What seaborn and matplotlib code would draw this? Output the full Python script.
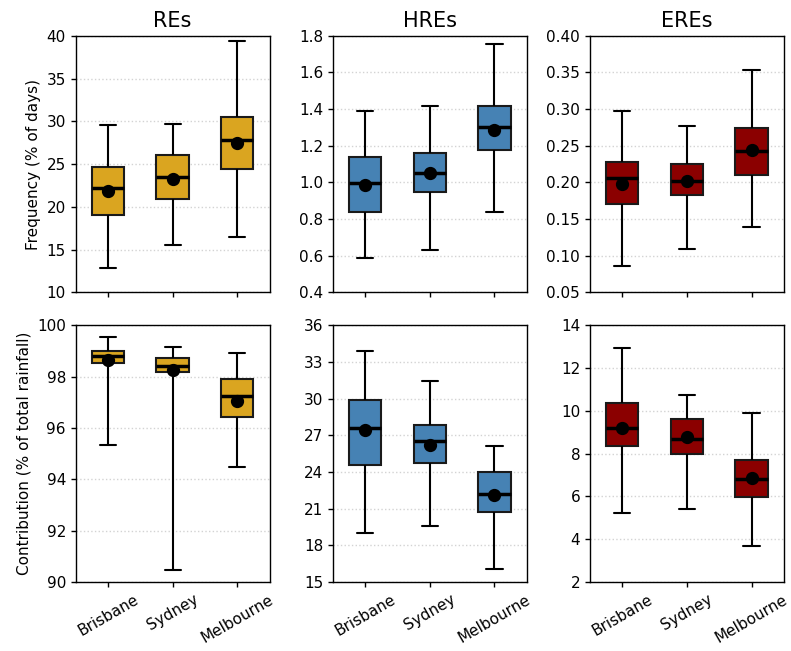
import numpy as np
import pandas as pd
import matplotlib
matplotlib.use("Agg")
import matplotlib.pyplot as plt
import seaborn as sns

cities = ["Brisbane", "Sydney", "Melbourne"]
titles = ["REs", "HREs", "EREs"]
row_labels = ["Frequency (% of days)", "Contribution (% of total rainfall)"]
colors = ["#DAA520", "#4682B4", "#8B0000"]

# five-number summaries per city: [min, q1, median, q3, max]
freq_res = [[12.88, 19.03, 22.18, 24.63, 29.54],
            [15.57, 20.97, 23.47, 26.11, 29.66],
            [16.50, 24.48, 27.86, 30.55, 39.38]]
freq_hres = [[0.587, 0.839, 0.999, 1.141, 1.388],
             [0.632, 0.948, 1.052, 1.161, 1.417],
             [0.838, 1.175, 1.304, 1.417, 1.755]]
freq_eres = [[0.086, 0.171, 0.206, 0.228, 0.297],
             [0.109, 0.183, 0.202, 0.225, 0.277],
             [0.139, 0.210, 0.243, 0.274, 0.353]]
cont_res = [[95.34, 98.55, 98.79, 99.01, 99.56],
            [90.48, 98.18, 98.42, 98.73, 99.17],
            [94.47, 96.42, 97.24, 97.90, 98.91]]
cont_hres = [[19.00, 24.61, 27.64, 29.87, 33.88],
             [19.60, 24.70, 26.55, 27.88, 31.48],
             [16.09, 20.75, 22.22, 23.99, 26.11]]
cont_eres = [[5.25, 8.35, 9.19, 10.37, 12.96],
             [5.42, 7.99, 8.71, 9.61, 10.76],
             [3.70, 5.97, 6.82, 7.70, 9.89]]

# means per city
mean_freq_res = [21.87, 23.31, 27.51]
mean_freq_hres = [0.986, 1.052, 1.284]
mean_freq_eres = [0.198, 0.2025, 0.2438]
mean_cont_res = [98.64, 98.27, 97.07]
mean_cont_hres = [27.45, 26.25, 22.16]
mean_cont_eres = [9.21, 8.77, 6.87]

ylims = [[(10, 40), (0.4, 1.8), (0.05, 0.40)],
         [(90, 100), (15, 36), (2, 14)]]
yticks = [[np.arange(10, 41, 5), np.arange(0.4, 1.81, 0.2), np.arange(0.05, 0.401, 0.05)],
          [np.arange(90, 101, 2), np.arange(15, 37, 3), np.arange(2, 15, 2)]]
ytick_fmt = [["{:.0f}", "{:.1f}", "{:.2f}"], ["{:.0f}", "{:.0f}", "{:.0f}"]]

summaries = [[freq_res, freq_hres, freq_eres], [cont_res, cont_hres, cont_eres]]
means = [[mean_freq_res, mean_freq_hres, mean_freq_eres],
         [mean_cont_res, mean_cont_hres, mean_cont_eres]]

sns.set_theme(style="ticks")
plt.rcParams["font.family"] = ["DejaVu Sans"]
plt.rcParams["text.color"] = "black"
plt.rcParams["axes.labelcolor"] = "black"

fig, axes = plt.subplots(2, 3, figsize=(7.91, 6.51), dpi=100)
fig.subplots_adjust(left=0.0957, right=0.991, top=0.945, bottom=0.106,
                    wspace=0.326, hspace=0.129)

for r in range(2):
    for c in range(3):
        ax = axes[r, c]
        rows = []
        for city, summ in zip(cities, summaries[r][c]):
            for v in summ:
                rows.append({"city": city, "value": v})
        df = pd.DataFrame(rows)
        sns.boxplot(data=df, x="city", y="value", order=cities, ax=ax,
                    color=colors[c], saturation=1, width=0.5, whis=(0, 100),
                    linecolor="black", linewidth=1.5,
                    medianprops=dict(linewidth=2.5, color="black"),
                    boxprops=dict(edgecolor="#1a1a1a"))
        mdf = pd.DataFrame({"city": cities, "mean": means[r][c]})
        sns.pointplot(data=mdf, x="city", y="mean", order=cities, ax=ax,
                      color="black", linestyle="none", errorbar=None,
                      markers="o", markersize=7.5)
        ax.set_ylim(*ylims[r][c])
        ax.set_yticks(yticks[r][c])
        ax.set_yticklabels([ytick_fmt[r][c].format(t) for t in yticks[r][c]])
        ax.set_xlim(-0.5, 2.5)
        ax.grid(axis="y", linestyle=":", color="lightgray", linewidth=1)
        ax.set_axisbelow(True)
        ax.tick_params(axis="both", labelsize=11, length=3.5, width=1,
                       colors="black", direction="out")
        for sp in ax.spines.values():
            sp.set_color("black")
            sp.set_linewidth(1)
        ax.set_xlabel("")
        ax.set_ylabel(row_labels[r] if c == 0 else "", fontsize=11)
        if r == 0:
            ax.set_title(titles[c], fontsize=15, color="black")
            ax.set_xticklabels([])
        else:
            ax.set_xticks(range(len(cities)))
            ax.set_xticklabels(cities, rotation=30)

fig.savefig("out.png", dpi=100)
